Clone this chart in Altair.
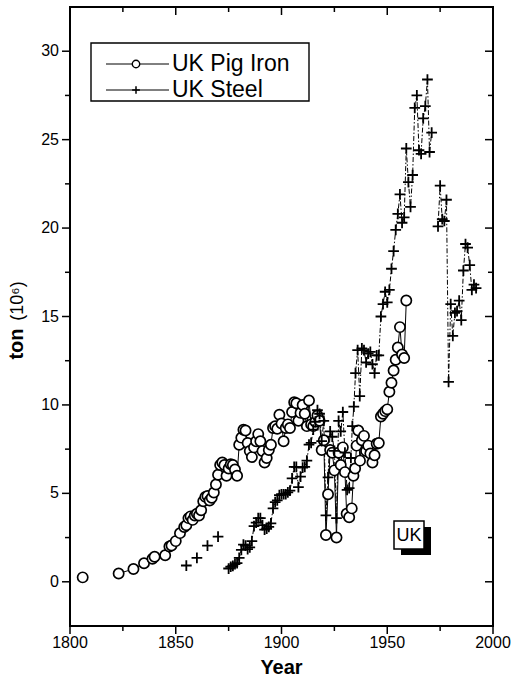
import altair as alt
import pandas as pd

# ---------------- data ----------------
iron_years = [1806, 1823, 1830, 1835, 1839, 1840, 1845, 1847, 1848, 1850, 1852, 1854, 1855, 1856,
              1857, 1858, 1859, 1860, 1861, 1862, 1863, 1864, 1865, 1866, 1867, 1868, 1869, 1870,
              1871, 1872, 1873, 1874, 1875, 1876, 1877, 1878, 1879, 1880, 1881, 1882, 1883, 1884,
              1885, 1886, 1887, 1888, 1889, 1890, 1891, 1892, 1893, 1894, 1895, 1896, 1897, 1898,
              1899, 1900, 1901, 1902, 1903, 1904, 1905, 1906, 1907, 1908, 1909, 1910, 1911, 1912,
              1913, 1914, 1915, 1916, 1917, 1918, 1919, 1920, 1921, 1922, 1923, 1924, 1925, 1926,
              1927, 1928, 1929, 1930, 1930.8, 1932, 1933.2, 1934, 1934.8, 1935.5, 1936.3, 1937.1,
              1938, 1939, 1940, 1941, 1942, 1943, 1944, 1945, 1946, 1947, 1948, 1949, 1950, 1951,
              1952, 1953, 1954, 1955, 1956, 1957, 1958, 1959]
iron_values = [0.25, 0.47, 0.72, 1.05, 1.3, 1.42, 1.5, 2.0, 2.05, 2.3, 2.75, 3.1, 3.2, 3.6,
               3.7, 3.5, 3.75, 3.85, 3.75, 4.05, 4.55, 4.8, 4.85, 4.6, 4.75, 5.05, 5.5, 6.05,
               6.6, 6.75, 6.6, 6.0, 6.4, 6.65, 6.6, 6.35, 6.0, 7.75, 8.15, 8.6, 8.55, 7.85,
               7.4, 7.05, 7.6, 7.95, 8.35, 7.95, 7.4, 6.75, 7.0, 7.45, 7.75, 8.7, 8.8, 8.65,
               9.45, 8.95, 7.95, 8.7, 8.9, 8.7, 9.6, 10.15, 10.1, 9.1, 9.55, 10.0, 9.5, 8.8,
               10.25, 8.9, 8.8, 9.05, 9.4, 9.1, 7.45, 8.0, 2.65, 4.95, 7.45, 7.3, 6.3, 2.5,
               7.3, 6.6, 7.6, 6.2, 3.85, 3.65, 4.15, 6.0, 6.4, 7.7, 8.55, 6.85,
               8.0, 8.25, 7.4, 7.7, 7.25, 6.75, 7.15, 7.8, 7.85, 9.35, 9.5, 9.65, 9.75, 10.75,
               11.25, 11.95, 12.55, 13.25, 14.4, 12.85, 12.65, 15.9]
iron_breaks = [1806]          # the line is broken after these years

steel_years = [1855, 1860, 1865, 1870,
               1875, 1876, 1877, 1878, 1879, 1880, 1881, 1882, 1883, 1884, 1885, 1886, 1887,
               1888, 1889, 1890, 1891, 1892, 1893, 1894, 1895, 1896, 1897, 1898, 1899, 1900,
               1901, 1902, 1903, 1904, 1905, 1906, 1907, 1908, 1909, 1910, 1911, 1912, 1913,
               1914, 1915, 1916, 1917, 1918, 1919, 1920, 1921, 1922, 1923, 1924, 1925, 1926,
               1927, 1928, 1929, 1930, 1931, 1932, 1932.8, 1933.5, 1934.2, 1935, 1936, 1937,
               1938, 1939, 1940, 1941, 1942, 1943, 1944, 1945, 1946, 1947, 1948, 1949, 1950,
               1951, 1952, 1953, 1954, 1955, 1956, 1957, 1958, 1959, 1960, 1961, 1962, 1963,
               1964, 1965, 1966, 1967, 1968, 1969, 1970, 1971,
               1974, 1975, 1976, 1977, 1978, 1979, 1980, 1981, 1982, 1983, 1984, 1985, 1986,
               1987, 1988, 1989, 1990, 1991, 1992]
steel_values = [0.92, 1.35, 2.05, 2.55,
                0.75, 0.85, 0.9, 1.0, 1.05, 1.35, 1.8, 2.1, 2.05, 1.85, 1.95, 2.3, 3.15,
                3.35, 3.6, 3.6, 3.2, 2.95, 3.0, 3.1, 3.3, 4.15, 4.5, 4.6, 4.9, 4.95,
                4.95, 4.95, 5.05, 5.15, 5.85, 6.5, 6.5, 5.35, 5.95, 6.45, 6.5, 6.85, 7.75,
                7.85, 8.6, 9.05, 9.7, 9.5, 7.95, 9.1, 3.75, 5.9, 8.5, 8.2, 7.4, 3.6,
                9.1, 8.5, 9.6, 7.3, 5.2, 5.3, 7.0, 8.8, 9.9, 11.8, 13.1, 10.5,
                13.2, 13.1, 12.4, 12.9, 13.0, 12.3, 11.8, 12.8, 12.8, 15.0, 15.7, 16.4, 15.8,
                16.5, 17.7, 18.7, 19.9, 20.8, 21.9, 20.3, 20.6, 24.5, 22.6, 21.2, 23.0, 26.8,
                27.5, 24.4, 24.2, 26.2, 26.9, 28.4, 24.3, 25.4,
                20.1, 22.4, 20.5, 20.4, 21.6, 11.3, 15.7, 13.9, 15.2, 15.3, 15.9, 14.8, 17.6,
                19.1, 18.9, 17.9, 16.5, 16.8, 16.6]
steel_breaks = [1855, 1860, 1865, 1870, 1971]

series_names = ["UK Pig Iron", "UK Steel"]
country_label = "UK"
x_major = [1800, 1850, 1900, 1950, 2000]
x_minor = [1825, 1875, 1925, 1975]
y_major = [0, 5, 10, 15, 20, 25, 30]
y_minor = [2.5, 7.5, 12.5, 17.5, 22.5, 27.5]
x_domain = [1800, 2000]
y_domain = [-2.5, 32.5]
y_title_main = "ton"
y_title_unit = "(10\u2076)"
x_title = "Year"


def segments(years, breaks):
    seg, out = 0, []
    for yr in years:
        out.append(seg)
        if yr in breaks:
            seg += 1
    return out


iron_df = pd.DataFrame({"year": iron_years, "value": iron_values,
                        "seg": segments(iron_years, iron_breaks)})
steel_df = pd.DataFrame({"year": steel_years, "value": steel_values,
                         "seg": segments(steel_years, steel_breaks)})
one_df = pd.DataFrame({"k": [0]})
xmaj_df = pd.DataFrame({"year": x_major})
xmin_df = pd.DataFrame({"year": x_minor})
ymaj_df = pd.DataFrame({"value": y_major})
ymin_df = pd.DataFrame({"value": y_minor})

FONT = "Liberation Sans"
W, H = 423, 619
MAJ, MIN = 8, 5

xs = alt.Scale(domain=x_domain, nice=False, zero=False)
ys = alt.Scale(domain=y_domain, nice=False, zero=False)


def X():
    return alt.X("year:Q", scale=xs, axis=None)


def Y():
    return alt.Y("value:Q", scale=ys, axis=None)


iron_line = alt.Chart(iron_df).mark_line(color="black", strokeWidth=1).encode(
    x=X(), y=Y(), detail="seg:N", order="year:Q")

steel_line = alt.Chart(steel_df).mark_line(
    color="black", strokeWidth=1, strokeDash=[5, 2, 1.5, 2]).encode(
    x=X(), y=Y(), detail="seg:N", order="year:Q")

PLUS = "M-1,0L1,0M0,-1L0,1"

iron_pts = alt.Chart(iron_df).mark_point(
    shape="circle", size=105, fill="white", filled=True, stroke="black",
    strokeWidth=1.7, opacity=1).encode(x=X(), y=Y())

steel_pts = alt.Chart(steel_df).mark_point(
    shape=PLUS, size=115, filled=False, stroke="black", strokeWidth=1.8,
    opacity=1).encode(x=X(), y=Y())

# ---------------- tick marks drawn as line symbols ----------------
DOWN = "M0,0L0,2"     # from anchor downwards, length sqrt(size)
LEFT = "M0,0L-2,0"    # from anchor to the left, length sqrt(size)
TW = 1.5


def tick_layer(df, shape, length, **pos):
    return alt.Chart(df).mark_point(
        shape=shape, size=length * length, filled=False, stroke="black",
        strokeWidth=TW, opacity=1).encode(**pos)


ticks = [
    tick_layer(xmaj_df, DOWN, MAJ, x=X(), y=alt.value(H)),
    tick_layer(xmin_df, DOWN, MIN, x=X(), y=alt.value(H)),
    tick_layer(xmaj_df, DOWN, MAJ, x=X(), y=alt.value(0)),
    tick_layer(xmin_df, DOWN, MIN, x=X(), y=alt.value(0)),
    tick_layer(ymaj_df, LEFT, MAJ, y=Y(), x=alt.value(0)),
    tick_layer(ymin_df, LEFT, MIN, y=Y(), x=alt.value(0)),
    tick_layer(ymaj_df, LEFT, MAJ, y=Y(), x=alt.value(W)),
    tick_layer(ymin_df, LEFT, MIN, y=Y(), x=alt.value(W)),
]

# ---------------- tick labels and axis title ----------------
x_labels = alt.Chart(xmaj_df).mark_text(
    align="center", baseline="middle", font=FONT, fontSize=16, color="black").encode(
    x=X(), y=alt.value(H + 17), text=alt.Text("year:Q", format="d"))
y_labels = alt.Chart(ymaj_df).mark_text(
    align="right", baseline="middle", font=FONT, fontSize=16, color="black").encode(
    y=Y(), x=alt.value(-11), text=alt.Text("value:Q", format="d"))
x_title_mark = alt.Chart(one_df).mark_text(
    align="center", baseline="middle", font=FONT, fontSize=20, fontWeight="bold",
    color="black").encode(x=alt.value(W / 2), y=alt.value(H + 42), text=alt.value(x_title))

# ---------------- legend box ----------------
leg_box = alt.Chart(one_df).mark_rect(fill="white", stroke="black", strokeWidth=1.4).encode(
    x=alt.value(21), x2=alt.value(239), y=alt.value(36), y2=alt.value(94))
leg_rows = []
for i, name in enumerate(series_names):
    yy = 57 + 26 * i
    leg_rows.append(alt.Chart(one_df).mark_rule(color="black", strokeWidth=1).encode(
        x=alt.value(36), x2=alt.value(99), y=alt.value(yy)))
    if i == 0:
        leg_rows.append(alt.Chart(one_df).mark_point(
            shape="circle", size=55, fill="white", filled=True, stroke="black",
            strokeWidth=1.4, opacity=1).encode(x=alt.value(66), y=alt.value(yy)))
    else:
        leg_rows.append(alt.Chart(one_df).mark_point(
            shape=PLUS, size=60, filled=False, stroke="black", strokeWidth=1.5,
            opacity=1).encode(x=alt.value(66), y=alt.value(yy)))
    leg_rows.append(alt.Chart(one_df).mark_text(
        align="left", baseline="middle", font=FONT, fontSize=23, color="black").encode(
        x=alt.value(102), y=alt.value(yy), text=alt.value(name)))

# ---------------- UK tag ----------------
uk_shadow = alt.Chart(one_df).mark_rect(fill="black").encode(
    x=alt.value(331), x2=alt.value(361), y=alt.value(520), y2=alt.value(548))
uk_box = alt.Chart(one_df).mark_rect(fill="white", stroke="black", strokeWidth=1.5).encode(
    x=alt.value(324), x2=alt.value(354), y=alt.value(514), y2=alt.value(542))
uk_text = alt.Chart(one_df).mark_text(
    align="center", baseline="middle", font=FONT, fontSize=18, color="black").encode(
    x=alt.value(339), y=alt.value(529), text=alt.value(country_label))

# ---------------- y title ----------------
yt_main = alt.Chart(one_df).mark_text(
    angle=270, align="center", baseline="middle", font=FONT, fontSize=20,
    fontWeight="bold", color="black").encode(
    x=alt.value(-53), y=alt.value(337), text=alt.value(y_title_main))
yt_unit = alt.Chart(one_df).mark_text(
    angle=270, align="center", baseline="middle", font=FONT, fontSize=18,
    color="black").encode(
    x=alt.value(-52), y=alt.value(294), text=alt.value(y_title_unit))

chart = alt.layer(
    iron_line, steel_line, iron_pts, steel_pts, *ticks, x_labels, y_labels, x_title_mark,
    leg_box, *leg_rows, uk_shadow, uk_box, uk_text, yt_main, yt_unit
).properties(
    width=W, height=H,
    padding={"left": 70, "top": 7, "right": 23, "bottom": 65},
    autosize=alt.AutoSizeParams(type="none"),
    background="white",
).configure_view(stroke="black", strokeWidth=2)

chart.save("out.html", embed_options={"renderer": "svg", "actions": False})
